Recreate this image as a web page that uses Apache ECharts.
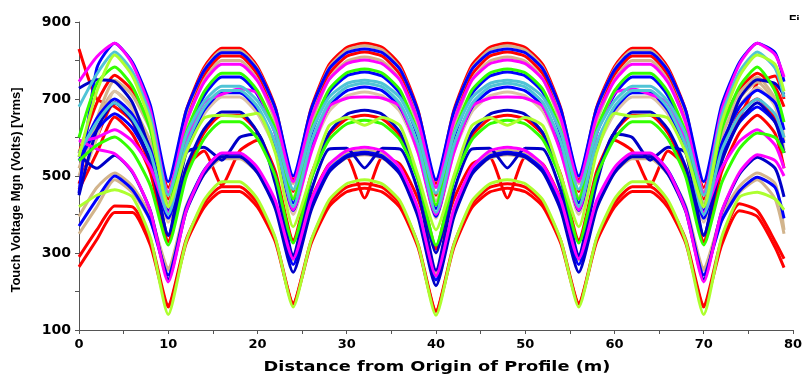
<!DOCTYPE html>
<html>
<head>
<meta charset="utf-8">
<script src="https://cdn.jsdelivr.net/npm/echarts/dist/echarts.min.js"></script>
<style>
  html, body { margin: 0; padding: 0; background: #fff; }
  #chart { width: 805px; height: 374px; }
</style>
</head>
<body>
<div id="chart"></div>
<script>
// distance along the profile (m)
const distance = [0,2,4,6,8,10,12,14,16,18,20,22,24,26,28,30,32,34,36,38,40,42,44,46,48,50,52,54,56,58,60,62,64,66,68,70,72,74,76,78,79];

// touch voltage (V) per profile
const redDip     = [830,700,680,640,520,330,520,565,476,565,593,500,330,440,530,548,443,548,530,440,310,440,530,548,443,548,530,440,330,500,593,565,476,565,520,330,540,650,740,760,700];
const redLow1    = [290,360,422,420,335,165,334,429,472,472,430,336,170,331,430,471,480,470,427,322,150,322,427,470,480,471,430,331,170,336,430,472,472,429,334,165,335,428,410,330,285];
const redLow2    = [264,335,405,405,320,160,325,418,460,460,419,329,168,324,420,459,468,458,417,314,148,314,417,458,468,459,420,324,168,329,419,460,460,418,325,160,320,410,395,315,262];
const redTop     = [560,690,762,721,631,470,669,781,832,832,784,678,490,675,788,834,845,834,787,670,480,670,787,834,845,834,788,675,490,678,784,832,832,781,669,470,633,725,767,730,680];
const redMid     = [480,600,690,655,578,440,645,760,812,812,763,654,460,648,764,811,822,811,762,643,450,643,762,811,822,811,764,648,460,654,763,812,812,760,645,440,583,664,700,650,560];
const redLowMid  = [465,560,653,608,508,330,510,612,658,658,613,512,334,502,606,648,658,648,603,494,316,494,603,648,658,648,606,502,334,512,613,658,658,612,510,330,510,612,658,610,520];
const tanTop     = [520,650,749,709,619,460,661,775,826,826,778,670,480,666,781,827,838,827,779,661,470,661,779,827,838,827,781,666,480,670,778,826,826,775,661,460,623,715,757,700,600];
const tanMid     = [500,640,720,679,590,430,634,748,800,800,750,640,445,634,751,798,809,798,749,629,435,629,749,798,809,798,751,634,445,640,750,800,800,748,634,430,603,700,744,690,590];
const tanLight   = [470,600,720,672,567,380,559,660,705,705,662,568,400,565,667,708,718,708,666,561,390,561,666,708,718,708,667,565,400,568,662,705,705,660,559,380,573,681,730,680,567];
const tanLow     = [395,470,508,473,397,261,421,511,552,552,514,431,282,430,521,558,567,557,516,415,250,415,516,557,567,558,521,430,282,431,514,552,552,511,421,261,397,473,508,480,360];
const tanLow2    = [350,420,490,457,384,255,415,504,545,545,509,430,290,428,513,547,555,546,505,406,245,406,505,546,555,547,513,428,290,430,509,545,545,504,415,255,384,457,490,440,350];
const blueTop    = [455,780,845,795,683,485,669,773,820,820,775,676,500,672,777,820,830,820,776,667,490,667,776,820,830,820,777,672,500,676,775,820,820,773,669,485,683,795,845,820,745];
const blueMid    = [550,650,700,659,570,410,601,708,757,757,711,610,430,607,716,760,770,759,713,600,415,600,713,759,770,760,716,607,430,610,711,757,757,708,601,410,582,679,723,690,620];
const blueMid2   = [540,620,662,624,540,390,569,670,716,716,673,578,410,577,680,721,731,721,677,570,395,570,677,721,731,721,680,577,410,578,673,716,716,670,569,390,549,639,679,640,586];
const navyMid    = [450,620,690,642,536,347,522,621,666,666,614,499,295,491,611,660,671,660,612,493,300,493,612,660,671,660,611,491,295,499,614,666,666,621,522,347,536,642,690,640,560];
const blueLow    = [370,440,500,464,384,243,416,514,558,558,518,428,270,422,515,553,562,552,509,403,230,403,509,552,562,553,515,422,270,428,518,558,558,514,416,243,383,461,497,470,390];
const navyLow    = [555,520,554,509,409,232,407,505,550,550,508,415,250,410,509,549,558,548,503,393,215,393,503,548,558,549,509,410,250,415,508,550,550,505,407,232,406,505,549,520,446];
const navyDip    = [728,750,745,690,560,345,560,575,541,600,610,480,290,460,570,572,521,572,570,460,255,460,570,572,521,572,570,460,290,480,610,600,541,575,560,345,560,700,750,740,712];
const magentaTop = [745,810,845,790,670,455,639,743,790,790,747,653,485,649,750,792,801,791,748,642,470,642,748,791,801,792,750,649,485,653,747,790,790,743,639,455,670,790,845,815,757];
const magentaFlat= [590,600,620,590,523,405,590,690,712,726,715,610,412,560,680,702,705,702,680,560,400,560,680,702,705,702,680,560,412,610,715,726,712,690,590,405,520,590,620,580,520];
const magentaLow = [593,570,558,511,408,225,409,513,560,560,522,436,285,436,529,566,575,565,521,414,240,414,521,565,575,566,529,436,285,436,522,560,560,513,409,225,407,509,555,540,500];
const limeTop    = [600,740,783,732,620,420,611,718,767,767,721,620,440,616,724,768,778,767,722,609,425,609,722,767,778,768,724,616,440,620,721,767,767,718,611,420,620,732,783,720,640];
const limeLow    = [540,580,601,562,475,321,497,596,641,641,597,499,326,492,594,635,645,635,593,489,320,489,593,635,645,635,594,492,326,499,597,641,641,596,497,321,481,571,612,600,560];
const cyanTop    = [680,765,822,770,655,450,606,693,733,733,695,612,465,613,704,740,749,740,702,608,455,608,702,740,749,740,704,613,465,612,695,733,733,693,606,450,655,770,822,780,705];
const cyanMid    = [560,640,690,649,560,400,577,677,722,722,680,586,420,587,690,731,741,731,687,580,405,580,687,731,741,731,690,587,420,586,680,722,722,677,577,400,565,658,700,660,600];
const yellowTop  = [550,720,814,759,637,420,560,650,658,655,663,560,368,500,630,652,632,652,630,500,360,500,630,652,632,652,630,500,368,560,663,655,658,650,560,420,637,759,814,790,720];
const yellowLow  = [420,450,464,445,340,140,330,437,485,485,440,339,160,332,437,480,490,479,434,321,138,321,434,479,490,480,437,332,160,339,440,485,485,437,330,140,340,445,458,440,412];

const RED = '#ff0000', TAN = '#d2b48c', BLUE = '#0000ff', NAVY = '#0000c8',
      MAGENTA = '#ff00ff', LIME = '#33ff00', CYAN = '#50c4d6', YELLOW = '#adff2f';

// drawing order: later ones sit on top
const profiles = [
  [redDip, RED], [redLow1, RED], [redLow2, RED], [redTop, RED], [redMid, RED], [redLowMid, RED],
  [tanTop, TAN], [tanMid, TAN], [tanLight, '#dcc3a6'], [tanLow, TAN], [tanLow2, TAN],
  [blueTop, BLUE], [blueMid, BLUE], [blueMid2, BLUE], [navyMid, NAVY], [blueLow, BLUE], [navyLow, NAVY], [navyDip, NAVY],
  [magentaTop, MAGENTA], [magentaFlat, MAGENTA], [magentaLow, MAGENTA],
  [limeTop, LIME], [limeLow, LIME],
  [cyanTop, CYAN], [cyanMid, CYAN],
  [yellowTop, YELLOW], [yellowLow, YELLOW]
];

const axisColor = '#555';
const labelStyle = { color: '#000', fontFamily: 'DejaVu Sans', fontWeight: 'bold' };

const chart = echarts.init(document.getElementById('chart'));
chart.setOption({
  animation: false,
  backgroundColor: '#fff',
  grid: { left: 79, right: 8, top: 22, bottom: 44 },
  xAxis: {
    type: 'value', min: 0, max: 80, interval: 10,
    axisLine: { show: true, lineStyle: { color: axisColor } },
    axisTick: { show: true, length: 4, lineStyle: { color: axisColor } },
    minorTick: { show: true, splitNumber: 2, length: 4, lineStyle: { color: axisColor } },
    splitLine: { show: false },
    axisLabel: { ...labelStyle, fontSize: 13, margin: 8 }
  },
  yAxis: {
    type: 'value', min: 100, max: 900, interval: 200,
    axisLine: { show: true, lineStyle: { color: axisColor } },
    axisTick: { show: true, length: 4, lineStyle: { color: axisColor } },
    minorTick: { show: true, splitNumber: 2, length: 4, lineStyle: { color: axisColor } },
    splitLine: { show: false },
    axisLabel: { ...labelStyle, fontSize: 14, margin: 8 }
  },
  graphic: [
    {
      type: 'text', x: 437, y: 367, scaleX: 1.27,
      style: { text: 'Distance from Origin of Profile (m)', font: 'bold 14px "DejaVu Sans"', fill: '#000', textAlign: 'center', textVerticalAlign: 'middle' }
    },
    {
      type: 'text', x: 16, y: 190, rotation: Math.PI / 2,
      style: { text: 'Touch Voltage Mgn (Volts) [Vrms]', font: 'bold 13px "Liberation Sans"', fill: '#000', textAlign: 'center', textVerticalAlign: 'middle' }
    },
    // legend title peeking in at the top right corner
    {
      type: 'text', x: 789, y: 15, z: 10,
      style: { text: 'Fi', font: 'bold 12px "Liberation Sans"', fill: '#000', textVerticalAlign: 'top' }
    },
    {
      type: 'rect', z: 11, shape: { x: 784, y: 20, width: 21, height: 14 },
      style: { fill: '#fff' }
    }
  ],
  series: profiles.map(([values, color]) => ({
    type: 'line',
    data: distance.map((d, i) => [d, values[i]]),
    symbol: 'none',
    smooth: 0.2,
    lineStyle: { color: color, width: 3 }
  }))
});
</script>
</body>
</html>
